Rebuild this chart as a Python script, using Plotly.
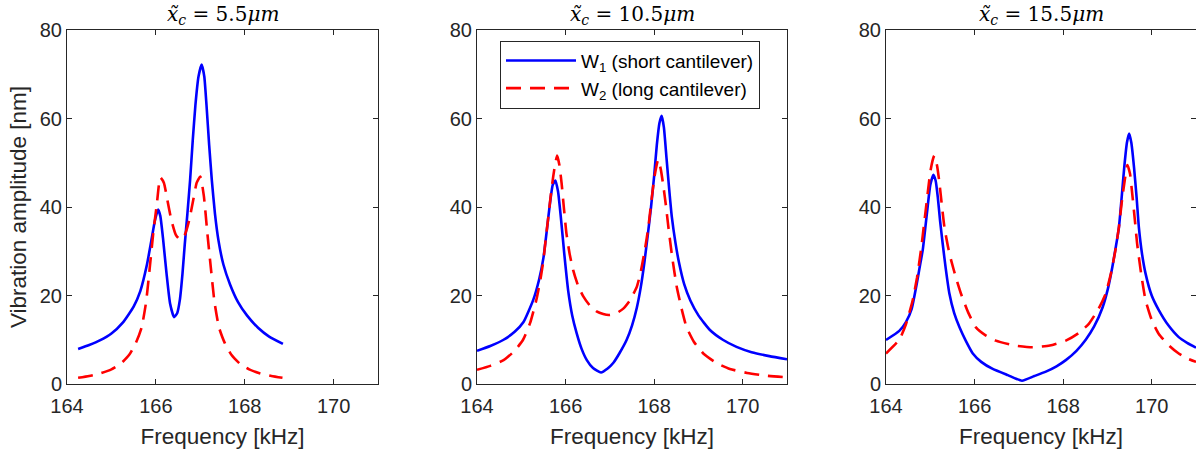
import plotly.graph_objects as go

# ---------------- data ----------------
# Panel 1: x_c = 5.5 um
freq_p1_w1 = [164.25, 164.5, 164.75, 165.0, 165.25, 165.5, 165.65, 165.8, 165.9, 165.98,
              166.05, 166.1, 166.16, 166.24, 166.32, 166.41, 166.48, 166.54, 166.6, 166.65,
              166.71, 166.77, 166.83, 166.89, 166.96, 167.03, 167.09, 167.14, 167.2, 167.26,
              167.33, 167.41, 167.52, 167.67, 167.85, 168.05, 168.3, 168.55, 168.86]
amp_p1_w1 = [7.9, 8.8, 9.9, 11.4, 13.8, 17.5, 21.0, 27.0, 32.5, 37.0,
             39.4, 38.0, 33.0, 25.0, 18.2, 15.1, 16.0, 19.0, 25.0, 31.5,
             38.5, 46.0, 55.0, 63.0, 69.5, 72.2, 69.5, 63.0, 54.0, 46.0,
             38.5, 32.4, 27.0, 22.5, 18.5, 15.5, 12.7, 10.7, 9.05]
freq_p1_w2 = [164.25, 164.5, 164.75, 165.0, 165.2, 165.4, 165.55, 165.68, 165.78, 165.86,
              165.94, 166.02, 166.1, 166.18, 166.26, 166.35, 166.45, 166.55, 166.65, 166.75,
              166.84, 166.92, 167.0, 167.08, 167.16, 167.24, 167.32, 167.42, 167.55, 167.7,
              167.9, 168.1, 168.35, 168.6, 168.85]
amp_p1_w2 = [1.4, 1.8, 2.4, 3.3, 4.5, 6.6, 9.3, 12.8, 18.5, 26.0,
             34.0, 40.5, 46.7, 45.5, 41.5, 37.0, 33.7, 32.6, 33.7, 37.0,
             41.5, 45.5, 46.9, 42.5, 34.0, 26.0, 18.5, 12.8, 9.3, 6.6,
             4.5, 3.3, 2.4, 1.8, 1.4]

# Panel 2: x_c = 10.5 um
freq_p2_w1 = [164.0, 164.3, 164.6, 164.85, 165.05, 165.27, 165.4, 165.5, 165.58, 165.65,
              165.71, 165.77, 165.83, 165.9, 165.97, 166.06, 166.15, 166.25, 166.36, 166.48,
              166.62, 166.8, 166.95, 167.08, 167.22, 167.38, 167.5, 167.61, 167.7, 167.78,
              167.86, 167.93, 168.0, 168.06, 168.12, 168.17, 168.22, 168.28, 168.34, 168.4,
              168.48, 168.56, 168.68, 168.82, 169.0, 169.26, 169.55, 169.86, 170.2, 170.6, 171.0]
amp_p2_w1 = [7.5, 8.6, 10.0, 11.8, 14.0, 19.0, 23.5, 28.5, 35.0, 41.0,
             45.0, 46.0, 43.5, 37.0, 29.5, 21.0, 15.5, 11.5, 8.0, 5.4,
             3.6, 2.6, 3.5, 4.8, 7.0, 10.0, 13.2, 17.3, 22.0, 27.5,
             34.0, 40.0, 47.0, 54.0, 59.0, 60.6, 58.0, 51.0, 44.0, 37.7,
             32.0, 27.5, 22.5, 18.8, 15.5, 12.2, 10.0, 8.4, 7.2, 6.3, 5.6]
freq_p2_w2 = [164.0, 164.3, 164.6, 164.85, 165.04, 165.2, 165.34, 165.43, 165.5, 165.56,
              165.61, 165.67, 165.72, 165.77, 165.81, 165.86, 165.91, 165.96, 166.02, 166.09,
              166.17, 166.28, 166.4, 166.55, 166.7, 166.85, 166.99, 167.15, 167.31, 167.46,
              167.61, 167.7, 167.79, 167.87, 167.94, 168.01, 168.09, 168.15, 168.21, 168.27,
              168.32, 168.41, 168.51, 168.62, 168.73, 168.9, 169.11, 169.4, 169.71, 170.1,
              170.5, 171.0]
amp_p2_w2 = [3.2, 4.1, 5.4, 7.5, 10.0, 13.8, 19.0, 23.5, 28.0, 33.5,
             37.7, 43.0, 46.8, 50.0, 51.6, 49.5, 45.4, 40.0, 34.0, 29.5,
             25.8, 22.3, 19.8, 17.7, 16.4, 15.8, 15.6, 16.0, 17.1, 19.0,
             22.0, 25.5, 30.3, 35.5, 41.6, 47.0, 50.7, 48.5, 44.6, 40.0,
             35.6, 28.5, 22.0, 17.0, 12.9, 9.5, 6.9, 4.8, 3.4, 2.5,
             1.9, 1.5]

# Panel 3: x_c = 15.5 um
freq_p3_w1 = [164.0, 164.3, 164.45, 164.58, 164.71, 164.78, 164.83, 164.89, 164.94, 165.0,
              165.07, 165.12, 165.17, 165.22, 165.28, 165.35, 165.43, 165.54, 165.66, 165.8,
              165.96, 166.15, 166.41, 166.75, 167.07, 167.35, 167.61, 167.85, 168.06, 168.3,
              168.51, 168.7, 168.89, 169.01, 169.11, 169.19, 169.26, 169.32, 169.38, 169.44,
              169.49, 169.54, 169.6, 169.66, 169.71, 169.78, 169.86, 170.0, 170.16, 170.38,
              170.61, 170.8, 171.0]
amp_p3_w1 = [9.95, 12.0, 14.0, 17.0, 23.5, 27.5, 30.3, 35.5, 40.0, 45.0,
             47.3, 46.0, 42.2, 37.0, 31.7, 26.0, 20.5, 16.0, 12.8, 9.8,
             6.9, 5.0, 3.4, 2.0, 0.75, 1.8, 2.8, 4.0, 5.4, 7.5,
             10.0, 13.0, 17.3, 21.5, 26.4, 31.0, 35.4, 42.0, 49.0, 54.5,
             56.6, 54.5, 49.0, 42.0, 35.4, 29.5, 25.0, 20.0, 16.7, 13.2,
             10.6, 9.3, 8.2]
freq_p3_w2 = [164.0, 164.3, 164.45, 164.6, 164.7, 164.79, 164.87, 164.94, 165.01, 165.09,
              165.15, 165.2, 165.26, 165.32, 165.4, 165.47, 165.58, 165.69, 165.85, 166.03,
              166.25, 166.48, 166.9, 167.31, 167.7, 168.06, 168.35, 168.58, 168.8, 168.96,
              169.08, 169.18, 169.26, 169.33, 169.39, 169.45, 169.51, 169.56, 169.62, 169.67,
              169.76, 169.86, 170.0, 170.16, 170.4, 170.61, 170.8, 171.0]
amp_p3_w2 = [6.9, 10.0, 13.5, 18.8, 24.0, 30.3, 37.0, 43.0, 48.5, 51.6,
             49.5, 46.0, 40.5, 35.4, 31.0, 28.0, 24.0, 20.5, 16.3, 12.8,
             11.0, 9.8, 8.7, 8.3, 8.7, 9.8, 11.5, 13.6, 17.0, 20.4,
             25.0, 30.2, 35.5, 41.6, 46.0, 49.5, 47.5, 43.0, 37.0, 31.8,
             25.0, 19.0, 14.5, 11.3, 8.6, 6.9, 5.8, 5.0]

panel_titles = ["5.5", "10.5", "15.5"]
series_names = ["W<sub>1</sub> (short cantilever)", "W<sub>2</sub> (long cantilever)"]
x_ticks = [164, 166, 168, 170]
y_ticks = [0, 20, 40, 60, 80]
x_range = [164, 171]
y_range = [0, 80]
x_label = "Frequency [kHz]"
y_label = "Vibration amplitude [nm]"

# ---------------- figure ----------------
W, H = 1196, 455
AX = "#262626"
SANS = "Liberation Sans, Arial, sans-serif"
SERIF = "DejaVu Serif, Liberation Serif, serif"

panels = [
    (freq_p1_w1, amp_p1_w1, freq_p1_w2, amp_p1_w2),
    (freq_p2_w1, amp_p2_w1, freq_p2_w2, amp_p2_w2),
    (freq_p3_w1, amp_p3_w1, freq_p3_w2, amp_p3_w2),
]
domains = [[67 / W, 378 / W], [477 / W, 787 / W], [886 / W, 1.0]]

fig = go.Figure()
for i, (fw1, aw1, fw2, aw2) in enumerate(panels):
    xa = "x" if i == 0 else f"x{i+1}"
    ya = "y" if i == 0 else f"y{i+1}"
    fig.add_trace(go.Scatter(
        x=fw1, y=aw1, xaxis=xa, yaxis=ya, mode="lines",
        name=series_names[0], legendgroup="w1", showlegend=(i == 1),
        line=dict(color="#0000ff", width=2.6, shape="spline", smoothing=0.5),
    ))
    fig.add_trace(go.Scatter(
        x=fw2, y=aw2, xaxis=xa, yaxis=ya, mode="lines",
        name=series_names[1], legendgroup="w2", showlegend=(i == 1),
        line=dict(color="#ff0000", width=2.6, dash="15px,9px", shape="spline", smoothing=0.5),
    ))

axis_common = dict(
    showline=True, linecolor=AX, linewidth=1, mirror="ticks",
    ticks="inside", ticklen=5, tickwidth=1, tickcolor=AX,
    tickfont=dict(family=SANS, size=20, color=AX),
    showgrid=False, zeroline=False, fixedrange=True,
)

layout = dict(
    width=W, height=H,
    margin=dict(l=0, r=0, t=30, b=71, autoexpand=False),
    paper_bgcolor="white", plot_bgcolor="white",
    showlegend=True,
    legend=dict(
        x=500 / W, y=0.97, xanchor="left", yanchor="top",
        bgcolor="white", bordercolor=AX, borderwidth=1,
        font=dict(family=SANS, size=19, color="black"),
        itemwidth=70, tracegroupgap=0,
    ),
    annotations=[],
)

for i in range(3):
    xk = "xaxis" if i == 0 else f"xaxis{i+1}"
    yk = "yaxis" if i == 0 else f"yaxis{i+1}"
    xa = "x" if i == 0 else f"x{i+1}"
    ya = "y" if i == 0 else f"y{i+1}"
    layout[xk] = dict(
        domain=domains[i], range=x_range, tickvals=x_ticks, anchor=ya,
        ticklabelstandoff=4,
        title=dict(text=x_label, font=dict(family=SANS, size=22.5, color=AX), standoff=12),
        **axis_common,
    )
    ydict = dict(domain=[0, 1], range=y_range, tickvals=y_ticks, anchor=xa, **axis_common)
    if i == 0:
        ydict["title"] = dict(text=y_label, font=dict(family=SANS, size=22.5, color=AX), standoff=6)
    layout[yk] = ydict
    layout["annotations"].append(dict(
        xref="paper", yref="paper",
        x=(domains[i][0] + domains[i][1]) / 2, y=1, yshift=0,
        xanchor="center", yanchor="bottom", showarrow=False,
        text=f"<i>x\u0303</i><sub><i>c</i></sub> = {panel_titles[i]}<i>\u03bcm</i>",
        font=dict(family=SERIF, size=20, color="black"),
    ))

fig.update_layout(**layout)
fig.write_html(
    "out.html",
    config={"displayModeBar": False},
    post_script="document.body.style.margin='0';document.body.style.overflow='hidden';",
)
